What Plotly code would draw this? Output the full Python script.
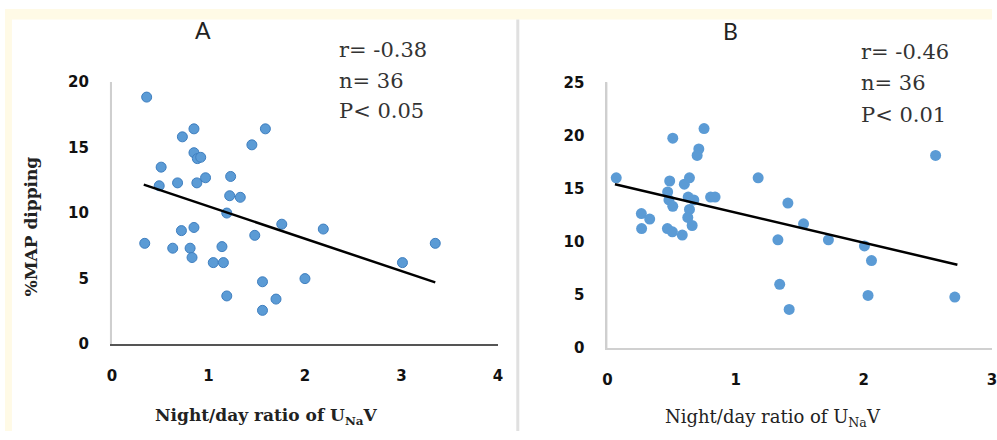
import plotly.graph_objects as go

W, H = 997, 440

# ---------------- Data ----------------
# Panel A: %MAP dipping vs night/day ratio of UNaV
a_x = [0.36, 0.34, 0.49, 0.51, 0.73, 0.68, 0.63, 0.72, 0.85, 0.85, 0.885, 0.92,
       0.88, 0.97, 0.85, 0.81, 0.83, 1.05, 1.155, 1.14, 1.19, 1.23, 1.22, 1.33,
       1.19, 1.45, 1.59, 1.48, 1.56, 1.56, 1.70, 1.76, 2.00, 2.19, 3.01, 3.35]
a_y = [18.84, 7.69, 12.08, 13.5, 15.81, 12.3, 7.32, 8.66, 16.42, 14.6, 14.15, 14.25,
       12.3, 12.69, 8.9, 7.32, 6.61, 6.22, 6.22, 7.44, 10.0, 12.79, 11.32, 11.2,
       3.68, 15.2, 16.42, 8.3, 4.76, 2.58, 3.44, 9.15, 5.0, 8.78, 6.22, 7.69]
a_trend_x = [0.33, 3.35]
a_trend_y = [12.17, 4.71]

# Panel B
b_x = [0.069, 0.265, 0.33, 0.267, 0.486, 0.51, 0.47, 0.48, 0.51, 0.468, 0.507, 0.584,
       0.60, 0.64, 0.63, 0.674, 0.64, 0.627, 0.661, 0.713, 0.70, 0.754, 0.805, 0.84,
       1.176, 1.33, 1.344, 1.408, 1.418, 1.53, 1.724, 2.005, 2.06, 2.033, 2.56, 2.71]
b_y = [16.02, 12.65, 12.14, 11.24, 15.72, 19.75, 14.69, 13.94, 13.34, 11.24, 10.94, 10.63,
       15.42, 16.02, 14.21, 13.94, 13.04, 12.29, 11.53, 18.73, 18.12, 20.65, 14.21, 14.21,
       16.02, 10.18, 6.0, 13.64, 3.63, 11.69, 10.18, 9.61, 8.23, 4.95, 18.12, 4.80]
b_trend_x = [0.059, 2.73]
b_trend_y = [15.42, 7.84]

a_ticks = [0, 5, 10, 15, 20]
a_xticks = [0, 1, 2, 3, 4]
b_ticks = [0, 5, 10, 15, 20, 25]
b_xticks = [0, 1, 2, 3]

a_stats = ["r= -0.38", "n= 36", "P< 0.05"]
b_stats = ["r= -0.46", "n= 36", "P< 0.01"]

# ---------------- Styling helpers ----------------
def px_x(p):
    return p / W

def px_y(p):
    return 1 - p / H

BLUE = "#5b9bd5"
TICKFONT = dict(family="DejaVu Sans", size=15, color="#111111", weight="bold")

fig = go.Figure()

fig.add_trace(go.Scatter(x=a_x, y=a_y, mode="markers", xaxis="x", yaxis="y",
                         marker=dict(size=10, color=BLUE, line=dict(color="#3f7fc0", width=1)),
                         showlegend=False, cliponaxis=False))
fig.add_trace(go.Scatter(x=a_trend_x, y=a_trend_y, mode="lines", xaxis="x", yaxis="y",
                         line=dict(color="black", width=2.5), showlegend=False))
fig.add_trace(go.Scatter(x=b_x, y=b_y, mode="markers", xaxis="x2", yaxis="y2",
                         marker=dict(size=11, color=BLUE, line=dict(width=0)),
                         showlegend=False, cliponaxis=False))
fig.add_trace(go.Scatter(x=b_trend_x, y=b_trend_y, mode="lines", xaxis="x2", yaxis="y2",
                         line=dict(color="black", width=2.5), showlegend=False))

common = dict(showgrid=False, zeroline=False, showline=True, ticks="",
              tickfont=TICKFONT, fixedrange=True, ticklabeloverflow="allow")

A_X0, A_X1 = 108, 498
A_Y0, A_Y1 = 349.5, 76
B_X0, B_X1 = 608.5, 997
B_Y0, B_Y1 = 353.5, 76.5

fig.update_layout(
    width=W, height=H,
    margin=dict(l=0, r=0, t=0, b=0),
    paper_bgcolor="white", plot_bgcolor="rgba(0,0,0,0)",
    font=dict(family="DejaVu Serif", color="#222222"),
    xaxis=dict(domain=[px_x(A_X0), px_x(A_X1)], range=[0, 4], tickvals=a_xticks,
               linecolor="#555555", linewidth=2, anchor="y", ticklabelstandoff=17, **common),
    yaxis=dict(domain=[px_y(A_Y0), px_y(A_Y1)], range=[0, 20], tickvals=a_ticks,
               linecolor="#cfcfcf", linewidth=2, anchor="x", ticklabelstandoff=18, **common),
    xaxis2=dict(domain=[px_x(B_X0), px_x(B_X1)], range=[0, 3], tickvals=b_xticks,
                linecolor="#d0d0d0", linewidth=2, anchor="y2", ticklabelstandoff=17, **common),
    yaxis2=dict(domain=[px_y(B_Y0), px_y(B_Y1)], range=[0, 25], tickvals=b_ticks,
                linecolor="#cfcfcf", linewidth=2, anchor="x2", ticklabelstandoff=18, **common),
)

shapes = [
    dict(type="rect", xref="paper", yref="paper", x0=0, x1=1, y0=px_y(11), y1=1,
         fillcolor="#fffae6", line=dict(width=0), layer="below"),
    dict(type="rect", xref="paper", yref="paper", x0=0, x1=px_x(7), y0=0, y1=1,
         fillcolor="#fffae6", line=dict(width=0), layer="below"),
    dict(type="line", xref="paper", yref="paper", x0=px_x(518), x1=px_x(518), y0=0, y1=px_y(11),
         line=dict(color="#e0e0e0", width=3)),
    # vertical axis lines (light gray)
    dict(type="line", xref="paper", yref="paper", x0=px_x(A_X0 - 1), x1=px_x(A_X0 - 1),
         y0=px_y(A_Y0), y1=px_y(A_Y1), line=dict(color="#cfcfcf", width=2), layer="below"),
    dict(type="line", xref="paper", yref="paper", x0=px_x(B_X0 - 1), x1=px_x(B_X0 - 1),
         y0=px_y(B_Y0), y1=px_y(B_Y1), line=dict(color="#cfcfcf", width=2), layer="below"),
]
fig.update_layout(shapes=shapes)

ann = []
# panel titles
ann.append(dict(text="A", x=px_x(200), y=px_y(22), xref="paper", yref="paper",
                showarrow=False, font=dict(family="Lato", size=23, color="#222222"),
                xanchor="center", yanchor="middle"))
ann.append(dict(text="B", x=px_x(733), y=px_y(23), xref="paper", yref="paper",
                showarrow=False, font=dict(family="Lato", size=23, color="#222222"),
                xanchor="center", yanchor="middle"))
# stats
for i, (t, yc) in enumerate(zip(a_stats, [43, 75, 106])):
    ann.append(dict(text=t, x=px_x(335), y=px_y(yc), xref="paper", yref="paper",
                    showarrow=False, font=dict(family="DejaVu Serif", size=21, color="#333333"),
                    xanchor="left", yanchor="middle"))
for i, (t, yc) in enumerate(zip(b_stats, [45, 77, 110])):
    ann.append(dict(text=t, x=px_x(863), y=px_y(yc), xref="paper", yref="paper",
                    showarrow=False, font=dict(family="DejaVu Serif", size=21, color="#333333"),
                    xanchor="left", yanchor="middle"))
# axis titles
ann.append(dict(text="<b>Night/day ratio of U<sub>Na</sub>V</b>", x=px_x(264), y=px_y(425),
                xref="paper", yref="paper", showarrow=False,
                font=dict(family="DejaVu Serif", size=17, color="#222222"),
                xanchor="center", yanchor="middle"))
ann.append(dict(text="Night/day ratio of U<sub>Na</sub>V", x=px_x(776), y=px_y(426),
                xref="paper", yref="paper", showarrow=False,
                font=dict(family="DejaVu Serif", size=18, color="#222222"),
                xanchor="center", yanchor="middle"))
ann.append(dict(text="<b>%MAP dipping</b>", x=px_x(26), y=px_y(227), xref="paper", yref="paper",
                showarrow=False, textangle=-90,
                font=dict(family="DejaVu Serif", size=17, color="#222222"),
                xanchor="center", yanchor="middle"))
fig.update_layout(annotations=ann)

fig.write_html("out.html")
